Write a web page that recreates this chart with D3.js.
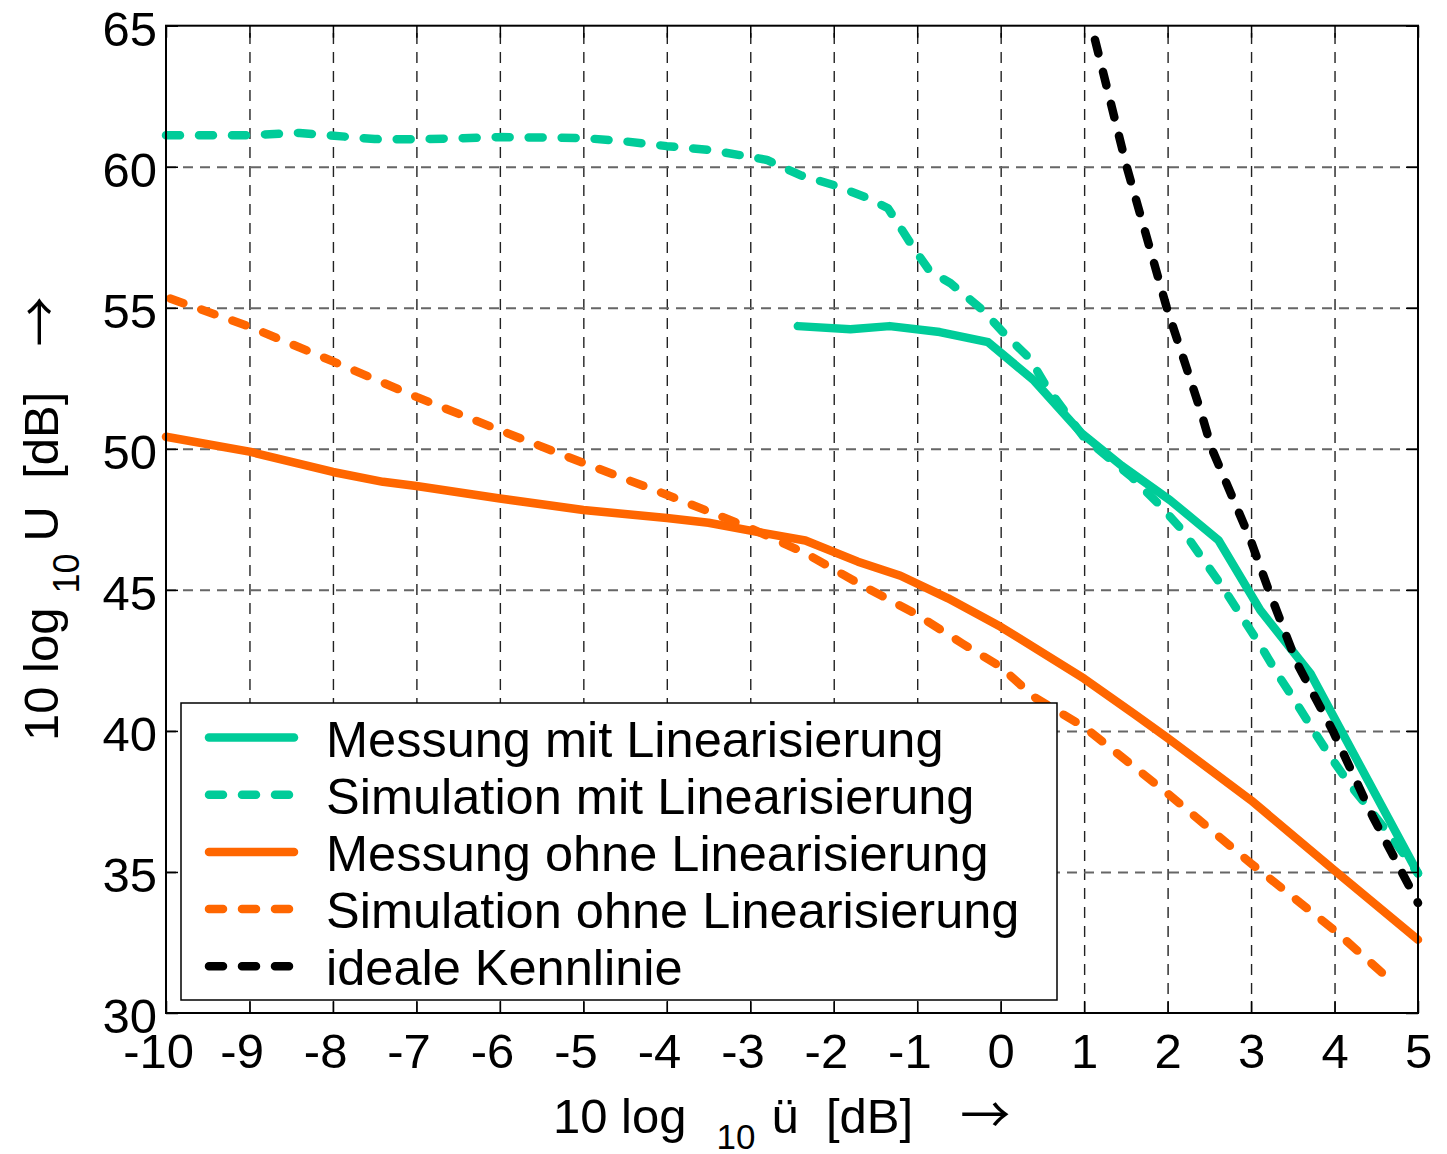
<!DOCTYPE html>
<html>
<head>
<meta charset="utf-8">
<script src="https://cdn.jsdelivr.net/npm/d3@7"></script>
<style>
  html, body { margin: 0; padding: 0; background: #fff; }
  svg { display: block; font-family: "Liberation Sans", Arial, Helvetica, sans-serif; }
</style>
</head>
<body>
<svg id="chart" width="1447" height="1154"></svg>
<script>
// Axis ticks
const xTicks = [-10, -9, -8, -7, -6, -5, -4, -3, -2, -1, 0, 1, 2, 3, 4, 5];
const yTicks = [30, 35, 40, 45, 50, 55, 60, 65];

// Curves: [10 log10 ü (dB), 10 log10 U (dB)]
const messungMit = [
  [-2.43, 54.35], [-1.8, 54.24], [-1.33, 54.35], [-0.73, 54.14], [-0.15, 53.78],
  [0.4, 52.42], [0.97, 50.55], [1.45, 49.4], [2.03, 48.18], [2.61, 46.76],
  [3.11, 44.28], [3.71, 42.04], [5.0, 34.95]
];
const simulationMit = [
  [-10, 61.12], [-9, 61.12], [-8.4, 61.2], [-7.5, 60.98], [-7, 60.97], [-6, 61.05],
  [-5, 61.02], [-4.5, 60.9], [-4, 60.73], [-3.5, 60.6], [-3, 60.35], [-2.8, 60.24],
  [-2.4, 59.7], [-2, 59.35], [-1.6, 58.9], [-1.35, 58.53], [-1.05, 57.15],
  [-0.85, 56.3], [-0.6, 55.87], [-0.21, 54.9], [0.08, 53.97], [0.35, 53.2],
  [0.55, 52.2], [1.0, 50.4], [1.57, 49.0], [1.91, 47.99], [2.19, 47.07],
  [2.42, 46.1], [2.66, 45.1], [2.89, 44.04], [3.11, 43.04], [3.32, 42.0],
  [3.53, 41.05], [3.75, 40.0], [3.97, 39.0], [4.21, 38.0], [4.64, 36.4], [5.0, 34.95]
];
const messungOhne = [
  [-10, 50.43], [-9, 49.9], [-8, 49.18], [-7.4, 48.83], [-7, 48.68], [-6, 48.24],
  [-5, 47.83], [-4, 47.55], [-3.5, 47.38], [-3, 47.1], [-2.34, 46.75], [-1.71, 46.0],
  [-1.2, 45.5], [-0.63, 44.7], [0, 43.69], [1.0, 41.85], [1.6, 40.6], [2.0, 39.75],
  [3.0, 37.54], [4.0, 35.05], [5.0, 32.6]
];
const simulationOhne = [
  [-9.95, 55.33], [-9, 54.33], [-8, 53.1], [-7, 51.84], [-6, 50.66], [-5, 49.5],
  [-4, 48.37], [-3.03, 47.23], [-2.34, 46.3], [-1.6, 45.06], [-1.03, 44.17],
  [-0.46, 43.1], [0, 42.27], [0.4, 41.2], [1.0, 40.14], [2.0, 37.78], [3.0, 35.3],
  [4.0, 32.93], [4.58, 31.4]
];
const idealeKennlinie = [
  [1.13, 64.5], [1.51, 60.0], [1.99, 55.0], [2.39, 51.4], [2.53, 50.0], [2.99, 46.8],
  [3.21, 45.0], [3.55, 42.4], [3.98, 40.0], [4.46, 36.95], [5.0, 33.9]
];

const legendLabels = [
  "Messung mit Linearisierung",
  "Simulation mit Linearisierung",
  "Messung ohne Linearisierung",
  "Simulation ohne Linearisierung",
  "ideale Kennlinie"
];

const TEAL = "#00cc99", ORANGE = "#ff6600", BLACK = "#000000";
const DASH = "14,19";
const ARROW_FONT = "'Noto Sans CJK JP', 'Noto Sans CJK SC', 'DejaVu Sans', sans-serif";

const series = [
  { data: messungMit, color: TEAL, dash: null },
  { data: simulationMit, color: TEAL, dash: DASH },
  { data: messungOhne, color: ORANGE, dash: null },
  { data: simulationOhne, color: ORANGE, dash: DASH },
  { data: idealeKennlinie, color: BLACK, dash: DASH }
];

const plotLeft = 166, plotRight = 1418, plotTop = 25.7, plotBottom = 1013;
const plotW = plotRight - plotLeft, plotH = plotBottom - plotTop;

const svg = d3.select("#chart");
const x = d3.scaleLinear().domain([-10, 5]).range([plotLeft, plotRight]);
const y = d3.scaleLinear().domain([30, 65]).range([plotBottom, plotTop]);

// Grid
const grid = svg.append("g");
grid.append("g")
  .attr("transform", `translate(0,${plotBottom})`)
  .call(d3.axisBottom(x).tickValues(xTicks.slice(1, -1)).tickSize(-plotH).tickFormat(""))
  .call(g => g.select(".domain").remove())
  .call(g => g.selectAll("line").attr("stroke", "#222").attr("stroke-width", 1.4).attr("stroke-dasharray", "11,8"));
grid.append("g")
  .attr("transform", `translate(${plotLeft},0)`)
  .call(d3.axisLeft(y).tickValues(yTicks.slice(1, -1)).tickSize(-plotW).tickFormat(""))
  .call(g => g.select(".domain").remove())
  .call(g => g.selectAll("line").attr("stroke", "#666").attr("stroke-width", 2).attr("stroke-dasharray", "10,7"));

// Curves
const line = d3.line().x(d => x(d[0])).y(d => y(d[1]));
const plot = svg.append("g");
series.forEach(s => {
  plot.append("path")
    .datum(s.data)
    .attr("d", line)
    .attr("fill", "none")
    .attr("stroke", s.color)
    .attr("stroke-width", 8.5)
    .attr("stroke-linecap", "round")
    .attr("stroke-linejoin", "round")
    .attr("stroke-dasharray", s.dash);
});

// Axes with inward ticks
const tickLen = 12;
const fontSize = 49;
const axes = svg.append("g");
const xAxis = axes.append("g")
  .attr("transform", `translate(0,${plotBottom})`)
  .call(d3.axisBottom(x).tickValues(xTicks).tickSize(-tickLen).tickPadding(20).tickFormat(d => String(d)));
xAxis.selectAll("text")
  .attr("font-size", fontSize)
  .attr("fill", "#000")
  .attr("dx", d => d < 0 ? "-0.16em" : 0);
axes.append("g")
  .attr("transform", `translate(0,${plotTop})`)
  .call(d3.axisTop(x).tickValues(xTicks).tickSize(-tickLen).tickFormat(""));
const yAxis = axes.append("g")
  .attr("transform", `translate(${plotLeft},0)`)
  .call(d3.axisLeft(y).tickValues(yTicks).tickSize(-tickLen).tickPadding(9).tickFormat(d => String(d)));
yAxis.selectAll("text")
  .attr("font-size", fontSize)
  .attr("fill", "#000")
  .attr("dy", "0.4em");
axes.append("g")
  .attr("transform", `translate(${plotRight},0)`)
  .call(d3.axisRight(y).tickValues(yTicks).tickSize(-tickLen).tickFormat(""));
axes.selectAll(".domain").remove();
axes.selectAll(".tick line").attr("stroke", "#000").attr("stroke-width", 1.5);

// Frame
svg.append("rect")
  .attr("x", plotLeft).attr("y", plotTop).attr("width", plotW).attr("height", plotH)
  .attr("fill", "none").attr("stroke", "#000").attr("stroke-width", 2);

// Legend
const lg = svg.append("g");
lg.append("rect")
  .attr("x", 181).attr("y", 703).attr("width", 876).attr("height", 297)
  .attr("fill", "#fff").attr("stroke", "#000").attr("stroke-width", 1.5);
series.forEach((s, i) => {
  const ry = 737.5 + i * 57.2;
  lg.append("line")
    .attr("x1", 209).attr("x2", 294).attr("y1", ry).attr("y2", ry)
    .attr("stroke", s.color).attr("stroke-width", 8.5)
    .attr("stroke-linecap", "round")
    .attr("stroke-dasharray", s.dash);
  lg.append("text")
    .attr("x", 326).attr("y", ry + 19)
    .attr("font-size", 50.5)
    .text(legendLabels[i]);
});

// Axis titles
const xl = svg.append("text")
  .attr("x", 553).attr("y", 1133)
  .attr("font-size", fontSize)
  .style("white-space", "pre");
xl.append("tspan").text("10 log");
xl.append("tspan").attr("dx", 30).attr("dy", 16).attr("font-size", 35).text("10");
xl.append("tspan").attr("dx", 16).attr("dy", -16).text("ü");
xl.append("tspan").text("  [dB]  ");
xl.append("tspan").attr("dx", 20).attr("font-family", ARROW_FONT).attr("font-size", 50).text("→");

const yl = svg.append("text")
  .attr("transform", "translate(58,741) rotate(-90)")
  .attr("font-size", fontSize)
  .style("white-space", "pre");
yl.append("tspan").text("10 log");
yl.append("tspan").attr("dx", 14).attr("dy", 21).attr("font-size", 36).text("10");
yl.append("tspan").attr("dx", 12).attr("dy", -21).text("U");
yl.append("tspan").text("  [dB]  ");
yl.append("tspan").attr("dx", 18).attr("font-family", ARROW_FONT).attr("font-size", 50).text("→");
</script>
</body>
</html>
